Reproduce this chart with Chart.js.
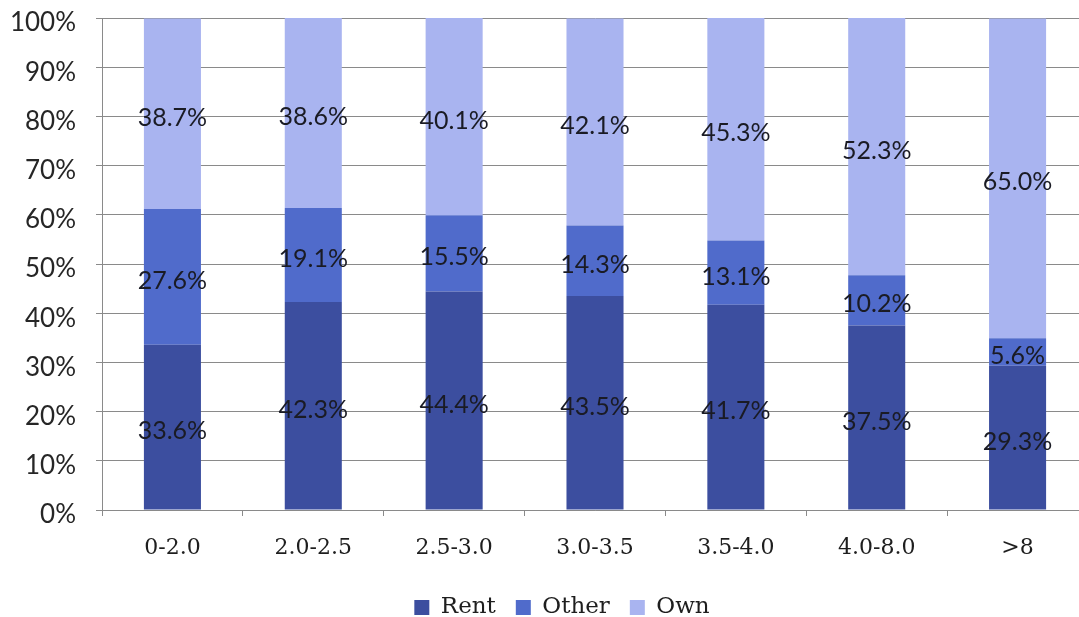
<!DOCTYPE html>
<html>
<head>
<meta charset="utf-8">
<script src="https://cdn.jsdelivr.net/npm/chart.js@4.4.1/dist/chart.umd.min.js"></script>
<style>
  html, body { margin: 0; padding: 0; background: #ffffff; overflow: hidden; }
  #wrap { width: 1092px; height: 617px; }
</style>
</head>
<body>
<div id="wrap"><canvas id="chart" width="1092" height="617"></canvas></div>
<script>
// Housing tenure share by income-ratio band
const categories = ['0-2.0', '2.0-2.5', '2.5-3.0', '3.0-3.5', '3.5-4.0', '4.0-8.0', '>8'];
const rentShare  = [33.6, 42.3, 44.4, 43.5, 41.7, 37.5, 29.3];
const otherShare = [27.6, 19.1, 15.5, 14.3, 13.1, 10.2, 5.6];
const ownShare   = [38.7, 38.6, 40.1, 42.1, 45.3, 52.3, 65.0];
const yTicks     = [0, 10, 20, 30, 40, 50, 60, 70, 80, 90, 100];

const SANS = 'Lato, "Open Sans", sans-serif';
const SERIF = '"DejaVu Serif", serif';

// Writes each segment's percentage in the middle of its bar piece
const segmentLabels = {
  id: 'segmentLabels',
  afterDatasetsDraw(chart) {
    const ctx = chart.ctx;
    ctx.save();
    ctx.font = '25px ' + SANS;
    ctx.fillStyle = '#1a1b24';
    ctx.textAlign = 'center';
    ctx.textBaseline = 'middle';
    chart.data.datasets.forEach((ds, i) => {
      chart.getDatasetMeta(i).data.forEach((bar, j) => {
        const v = ds.data[j];
        const y = (bar.y + bar.base) / 2 + 4;
        ctx.fillText(v.toFixed(1) + '%', bar.x, y);
      });
    });
    ctx.restore();
  }
};

// Centres the legend row under the plot rather than the whole canvas
const legendShift = {
  id: 'legendShift',
  afterLayout(chart) {
    if (chart.legend) {
      chart.legend.left += 18;
      chart.legend.right += 18;
    }
  }
};

function draw() {
  new Chart(document.getElementById('chart'), {
    type: 'bar',
    data: {
      labels: categories,
      datasets: [
        { label: 'Rent',  data: rentShare,  backgroundColor: '#3c4e9f' },
        { label: 'Other', data: otherShare, backgroundColor: '#506bcb' },
        { label: 'Own',   data: ownShare,   backgroundColor: '#a9b4f0' }
      ]
    },
    options: {
      responsive: false,
      animation: false,
      events: [],
      layout: { padding: { left: 0, right: 4, top: 18, bottom: -12 } },
      datasets: { bar: { categoryPercentage: 1.0, barPercentage: 0.405 } },
      plugins: {
        tooltip: { enabled: false },
        legend: {
          position: 'bottom',
          labels: {
            boxWidth: 15,
            boxHeight: 15,
            padding: 20,
            color: '#1e1e1e',
            font: { family: SERIF, size: 23 }
          }
        }
      },
      scales: {
        x: {
          stacked: true,
          grid: { display: true, drawOnChartArea: false, drawTicks: true, tickLength: 6, color: '#8a8a8a', offset: true },
          border: { display: true, color: '#8a8a8a', width: 1 },
          ticks: { color: '#1e1e1e', padding: 19, font: { family: SERIF, size: 22 } },
          afterFit(scale) { scale.height = 66; }
        },
        y: {
          stacked: true,
          min: 0,
          max: 100,
          afterBuildTicks(scale) { scale.ticks = yTicks.map(v => ({ value: v })); },
          grid: { color: '#8a8a8a', lineWidth: 1, tickLength: 6 },
          border: { display: true, color: '#8a8a8a', width: 1 },
          ticks: {
            color: '#262626',
            padding: 20,
            labelOffset: 5,
            font: { family: SANS, size: 26 },
            callback: v => v + '%'
          },
          afterFit(scale) {
            scale.width = 102;
            scale.paddingTop = 0;
            scale.paddingBottom = 0;
          }
        }
      }
    },
    plugins: [segmentLabels, legendShift]
  });
}

Promise.all([
  document.fonts.load('25px Lato'),
  document.fonts.load('21px "DejaVu Serif"')
]).then(draw, draw);
</script>
</body>
</html>
